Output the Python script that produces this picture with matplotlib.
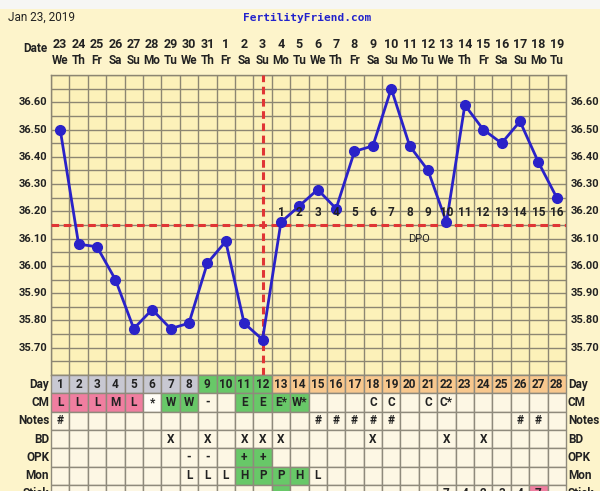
import matplotlib
matplotlib.use("Agg")
import matplotlib.pyplot as plt
import matplotlib.transforms as mtransforms
from matplotlib.patches import Rectangle

# ---------------- data ----------------
dates = ["23", "24", "25", "26", "27", "28", "29", "30", "31", "1", "2", "3", "4", "5",
         "6", "7", "8", "9", "10", "11", "12", "13", "14", "15", "16", "17", "18", "19"]
weekdays = ["We", "Th", "Fr", "Sa", "Su", "Mo", "Tu", "We", "Th", "Fr", "Sa", "Su", "Mo", "Tu",
            "We", "Th", "Fr", "Sa", "Su", "Mo", "Tu", "We", "Th", "Fr", "Sa", "Su", "Mo", "Tu"]
cycle_days = list(range(1, 29))
temps = [36.50, 36.08, 36.07, 35.95, 35.77, 35.84, 35.77, 35.79, 36.01, 36.09, 35.79, 35.73,
         36.16, 36.22, 36.28, 36.21, 36.42, 36.44, 36.65, 36.44, 36.35, 36.16, 36.59, 36.50,
         36.45, 36.53, 36.38, 36.25]
coverline = 36.15
ovulation_day = 12
dpo_labels = [str(i) for i in range(1, 17)]
y_ticks = [35.70, 35.80, 35.90, 36.00, 36.10, 36.20, 36.30, 36.40, 36.50, 36.60]

cm = ["L", "L", "L", "M", "L", "*", "W", "W", "-", "", "E", "E", "E*", "W*",
      "", "", "", "C", "C", "", "C", "C*", "", "", "", "", "", ""]
notes = ["#", "", "", "", "", "", "", "", "", "", "", "", "", "",
         "#", "#", "#", "#", "#", "", "", "", "", "", "", "#", "#", ""]
bd = ["", "", "", "", "", "", "X", "", "X", "", "X", "X", "X", "",
      "", "", "", "X", "", "", "", "X", "", "X", "", "", "", ""]
opk = ["", "", "", "", "", "", "", "-", "-", "", "+", "+", "", "",
       "", "", "", "", "", "", "", "", "", "", "", "", "", ""]
mon = ["", "", "", "", "", "", "", "L", "L", "L", "H", "P", "P", "H",
       "L", "", "", "", "", "", "", "", "", "", "", "", "", ""]
sticky = ["", "", "", "", "", "", "", "", "", "", "", "", "", "",
          "", "", "", "", "", "", "", "7", "4", "2", "3", "4", "7", ""]
row_labels = ["Day", "CM", "Notes", "BD", "OPK", "Mon", "Stick"]

# ---------------- styles ----------------
FIG_BG = "#FDF4CB"
PLOT_BG = "#FCF1B9"
CELL_BG = "#FDF7E4"
GRID = "#8C8672"
GRAY = "#C8C8D2"
GREEN = "#68C868"
ORANGE = "#F8C88E"
PINK = "#F07EA0"
BLUE = "#2A22C8"
RED = "#E03535"
FONT = "Roboto"
TXT = "#222222"

W, H = 600, 491
fig = plt.figure(figsize=(6, 4.91), dpi=100, facecolor=FIG_BG)

def fx(px):
    return px / W

def fy(py):
    return 1 - py / H

# white top strip
fig.patches.append(Rectangle((0, fy(9)), 1, 9 / H, transform=fig.transFigure,
                             facecolor="#F6F6F4", edgecolor="none", zorder=0))

left, right, top, bottom = 51, 566, 75, 375
ax = fig.add_axes([fx(left), fy(bottom), fx(right - left), (bottom - top) / H])
ax.set_facecolor(PLOT_BG)
ax.set_xlim(0.5, 28.5)
ax.set_ylim(35.60, 36.70)
for k in range(29):
    ax.axvline(0.5 + k, color=GRID, lw=1.0, zorder=1)
for k in range(23):
    ax.axhline(35.60 + 0.05 * k, color=GRID, lw=1.0, zorder=1)
ax.set_xticks([])
ax.set_yticks([])
for s in ax.spines.values():
    s.set_color(GRID)
    s.set_linewidth(1.0)

ax.axhline(coverline, color=RED, lw=2.2, ls=(0, (2.5, 1.5)), zorder=3)
ax.axvline(ovulation_day, color=RED, lw=2.2, ls=(0, (2.5, 1.5)), zorder=3)
ax.plot(cycle_days, temps, color=BLUE, lw=2.0, marker="o", ms=7, zorder=5,
        clip_on=False)

for i, lab in enumerate(dpo_labels):
    ax.text(ovulation_day + 1 + i, 36.195, lab, ha="center", va="center",
            fontsize=8.5, fontweight="bold", family=FONT, color=TXT, zorder=6)
ax.text(20.5, 36.10, "DPO", ha="center", va="center", fontsize=8,
        family=FONT, color=TXT, zorder=6)

ytrans = mtransforms.blended_transform_factory(fig.transFigure, ax.transData)
for t in y_ticks:
    ax.text(fx(47), t, f"{t:.2f}", transform=ytrans, ha="right", va="center",
            fontsize=8, fontweight="bold", family=FONT, color=TXT)
    ax.text(fx(571), t, f"{t:.2f}", transform=ytrans, ha="left", va="center",
            fontsize=8, fontweight="bold", family=FONT, color=TXT)

# header texts
bt = mtransforms.blended_transform_factory(ax.transData, fig.transFigure)
for d, dt, wd in zip(cycle_days, dates, weekdays):
    fig.text(d, fy(44), dt, transform=bt, ha="center", va="center", fontsize=9,
             fontweight="bold", family=FONT, color=TXT)
    fig.text(d, fy(61), wd, transform=bt, ha="center", va="center", fontsize=8.5,
             fontweight="bold", family=FONT, color=TXT)
fig.text(fx(48), fy(49), "Date", ha="right", va="center", fontsize=8.5,
         fontweight="bold", family=FONT, color=TXT)
fig.text(fx(8), fy(17), "Jan 23, 2019", ha="left", va="center", fontsize=8.5,
         family=FONT, color=TXT)
fig.text(fx(307), fy(18), "FertilityFriend.com", ha="center", va="center",
         fontsize=8, fontweight="bold", family="DejaVu Sans Mono", color="#2222CC")

# ---------------- table ----------------
row_h = 18.3
n_rows = len(row_labels)
tab = fig.add_axes([fx(left), fy(bottom + row_h * n_rows), fx(right - left),
                    row_h * n_rows / H])
tab.set_xlim(0.5, 28.5)
tab.set_ylim(n_rows, 0)
tab.axis("off")

def cell_color(row, i):
    d = i + 1
    if row == 0:
        if d <= 8:
            return GRAY
        if d <= 12:
            return GREEN
        return ORANGE
    if row == 1:
        if d <= 5:
            return PINK
        if d == 6:
            return "#FFFDF6"
        if d in (7, 8, 11, 12, 13, 14):
            return GREEN
    if row == 4 and d in (11, 12):
        return GREEN
    if row == 5 and d in (11, 12, 13, 14):
        return GREEN
    if row == 6 and d == 13:
        return GREEN
    if row == 6 and d == 27:
        return PINK
    return CELL_BG

rows_vals = [[str(d) for d in cycle_days], cm, notes, bd, opk, mon, sticky]
for r, vals in enumerate(rows_vals):
    for i, v in enumerate(vals):
        d = i + 1
        tab.add_patch(Rectangle((d - 0.5, r), 1, 1, facecolor=cell_color(r, i),
                                edgecolor="#8F8A7C", lw=1.0, clip_on=False))
        if v:
            tab.text(d, r + 0.5, v, ha="center", va="center", fontsize=8.5,
                     fontweight="bold", family=FONT, color=TXT, clip_on=False)
    lab = row_labels[r]
    tab.text(0.4, r + 0.5, lab, ha="right", va="center", fontsize=8.5,
             fontweight="bold", family=FONT, color=TXT)
    tab.text(28.6, r + 0.5, lab, ha="left", va="center", fontsize=8.5,
             fontweight="bold", family=FONT, color=TXT)

fig.savefig("out.png", dpi=100, facecolor=FIG_BG)
